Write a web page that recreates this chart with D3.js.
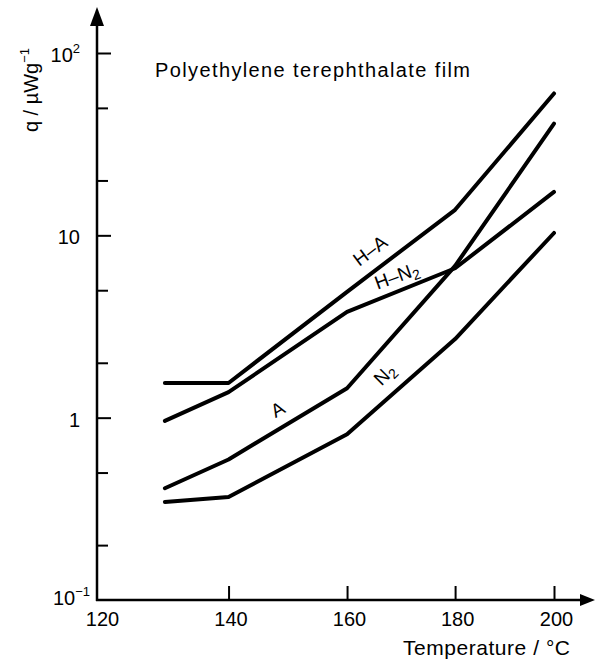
<!DOCTYPE html>
<html lang="en">
<head>
<meta charset="UTF-8">
<title>PET film</title>
<script src="https://d3js.org/d3.v7.min.js"></script>
<style>
    body { margin: 0; background: #fff; }
    svg { display: block; font-family: "Liberation Sans", Arial, sans-serif; }
    .axis path { display: none; }
    .axis line { stroke: #000; stroke-width: 2; }
    .axis text { font-size: 20px; fill: #000; font-family: "Liberation Sans", Arial, sans-serif; }
    .curve { fill: none; stroke: #000; stroke-width: 4; stroke-linecap: round; stroke-linejoin: round; }
</style>
</head>
<body>
<svg width="595" height="661"></svg>
<script>

    // temperatures in degrees C, q in microW per g
    var xTicks = [120, 140, 160, 180, 200];
    var yTicks = [0.2, 0.5, 1, 2, 5, 10, 20, 50, 100];
    var yLabels = [[100, "10", "2"], [10, "10", ""], [1, "1", ""], [0.1, "10", "\u22121"]];

    var hA  = [[130, 1.55], [140, 1.55], [160, 4.9], [180, 13.8], [200, 60]];
    var hN2 = [[130, 0.96], [140, 1.38], [160, 3.8], [180, 6.6], [200, 17.3]];
    var aGas = [[130, 0.41], [140, 0.59], [160, 1.45], [180, 6.8], [200, 41]];
    var n2  = [[130, 0.345], [140, 0.367], [160, 0.81], [180, 2.7], [200, 10.3]];

    var svg = d3.select('svg');

    // x axis is linear in 1/T (kelvin)
    var inv = function(t) { return 1 / (t + 273.15); };
    var xInv = d3.scaleLinear()
            .domain([inv(120), inv(200)])
            .range([98, 554]);
    var x = function(t) { return xInv(inv(t)); };

    var y = d3.scaleLog()
            .domain([0.1, 100])
            .range([600, 53]);

    // axis lines with arrows
    svg.append('line')
            .attr('x1', 97).attr('y1', 601).attr('x2', 97).attr('y2', 22)
            .attr('stroke', '#000').attr('stroke-width', 2.5);
    svg.append('path')
            .attr('d', 'M90,26 L97,7 L104,26 Z')
            .attr('fill', '#000');
    svg.append('line')
            .attr('x1', 96).attr('y1', 600).attr('x2', 584).attr('y2', 600)
            .attr('stroke', '#000').attr('stroke-width', 2.5);
    svg.append('path')
            .attr('d', 'M580,594 L595,600 L580,606 Z')
            .attr('fill', '#000');

    var xAxis = d3.axisBottom(xInv)
            .tickValues(xTicks.map(inv))
            .tickFormat(function(d) { return Math.round(1 / d - 273.15); })
            .tickSize(-14)
            .tickPadding(12);

    var gX = svg.append('g')
            .attr('class', 'axis')
            .attr('transform', 'translate(0,600)')
            .call(xAxis);
    gX.selectAll('.tick line')
            .attr('display', function(d, i) { return i === 0 ? 'none' : null; });
    gX.selectAll('.tick text')
            .attr('dx', function(d, i) { return i === 0 ? 4 : 2; });

    var yAxis = d3.axisRight(y)
            .tickValues(yTicks)
            .tickFormat('')
            .tickSize(11);

    var gY = svg.append('g')
            .attr('class', 'axis')
            .attr('transform', 'translate(97,0)')
            .call(yAxis);
    gY.selectAll('.tick line')
            .attr('x2', function(d) { return [1, 10, 100].indexOf(d) >= 0 ? 14 : 11; });

    // y tick labels with superscripts
    yLabels.forEach(function(l) {
        var t = svg.append('text')
                .attr('x', l[0] < 1 ? 90 : 80)
                .attr('y', y(l[0]) + (l[0] < 1 ? 5 : 9))
                .attr('text-anchor', 'end')
                .attr('font-size', 20);
        t.append('tspan').text(l[1]);
        if (l[2]) {
            t.append('tspan').attr('dy', -9).attr('font-size', 13).text(l[2]);
        }
    });

    var line = d3.line()
            .x(function(d) { return x(d[0]); })
            .y(function(d) { return y(d[1]); });

    svg.selectAll('.curve')
            .data([hA, hN2, aGas, n2])
            .enter().append('path')
            .attr('class', 'curve')
            .attr('d', line);

    // curve labels
    function label(txt, sub, px, py, rot) {
        var t = svg.append('text')
                .attr('transform', 'translate(' + px + ',' + py + ') rotate(' + rot + ')')
                .attr('text-anchor', 'middle')
                .attr('font-size', 19);
        t.append('tspan').text(txt);
        if (sub) t.append('tspan').attr('dy', 4).attr('font-size', 14).text(sub);
    }
    label('H\u2013A', '', 374, 256, -37);
    label('H\u2013N', '2', 399, 282, -20);
    label('A', '', 281, 415, -30);
    label('N', '2', 389, 379, -45);

    // titles
    svg.append('text')
            .attr('x', 155).attr('y', 77)
            .attr('font-size', 20)
            .attr('textLength', 315)
            .attr('lengthAdjust', 'spacing')
            .text('Polyethylene terephthalate film');

    svg.append('text')
            .attr('x', 403).attr('y', 655)
            .attr('font-size', 21)
            .attr('textLength', 167)
            .attr('lengthAdjust', 'spacing')
            .text('Temperature / \u00B0C');

    var yt = svg.append('text')
            .attr('transform', 'translate(38,90) rotate(-90)')
            .attr('text-anchor', 'middle')
            .attr('font-size', 20);
    yt.append('tspan').text('q / \u00B5Wg');
    yt.append('tspan').attr('dy', -9).attr('font-size', 13).text('\u22121');

</script>
</body>
</html>
